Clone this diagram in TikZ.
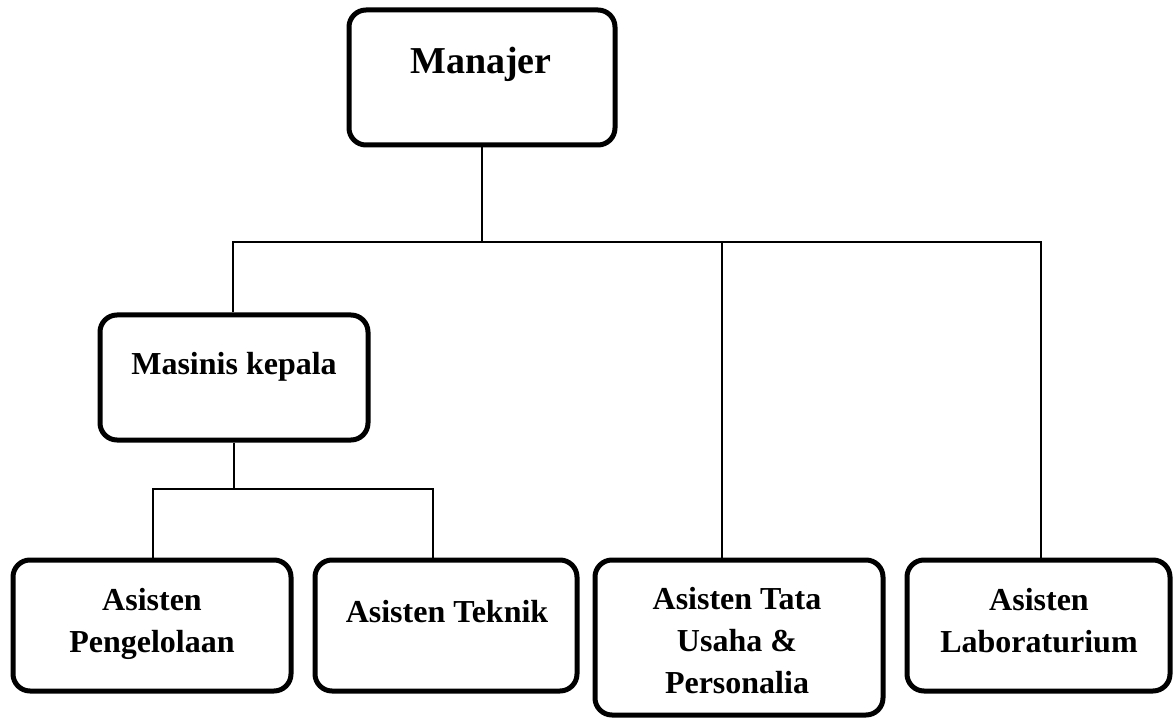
\documentclass[tikz,border=0pt]{standalone}
\usepackage{fontspec}
\setmainfont{Liberation Serif}
\tikzset{
  box/.style={draw, line width=5pt, rounded corners=17pt, inner sep=0pt, fill=white},
  lbl/.style={font=\bfseries\fontsize{32}{42}\selectfont, inner sep=0pt, align=center, anchor=base},
  conn/.style={line width=1.8pt},
}
\begin{document}
\begin{tikzpicture}[x=1pt,y=-1pt]
\useasboundingbox (0,0) rectangle (1173,719);
% boxes
\node[box, minimum width=266pt, minimum height=135pt] (manajer) at (482,77.5) {};
\node[box, minimum width=268pt, minimum height=125pt] (masinis) at (234,377.5) {};
\node[box, minimum width=278pt, minimum height=131pt] (peng) at (152,625.5) {};
\node[box, minimum width=262pt, minimum height=131pt] (teknik) at (446,625.5) {};
\node[box, minimum width=288pt, minimum height=155pt] (tata) at (739,637.5) {};
\node[box, minimum width=263pt, minimum height=131pt] (lab) at (1038.5,625.5) {};
% texts (base anchor = baseline of the last line)
\node[lbl, font=\bfseries\fontsize{38}{44}\selectfont] (manajerT) at (481,74) {Manajer};
\node[lbl] (masinisT) at (234,374) {Masinis kepala};
\node[lbl] (pengT) at (152,652) {Asisten\\Pengelolaan};
\node[lbl] (teknikT) at (447,622) {Asisten Teknik};
\node[lbl] (tataT) at (737,693) {Asisten Tata\\Usaha \&\\Personalia};
\node[lbl] (labT) at (1039,652) {Asisten\\Laboraturium};
% connectors
\coordinate (busL) at (233,242);
\coordinate (busR) at (1041,242);
\coordinate (dropT) at (722,242);
\coordinate (sbusL) at (153,489);
\coordinate (sbusR) at (433,489);
\draw[conn] (manajer.south) -- (manajer.south |- busL);
\draw[conn] (busL |- masinis.north) -- (busL) -- (busR) -- (busR |- lab.north);
\draw[conn] (dropT) -- (dropT |- tata.north);
\draw[conn] (masinis.south) -- (masinis.south |- sbusL);
\draw[conn] (sbusL |- peng.north) -- (sbusL) -- (sbusR) -- (sbusR |- teknik.north);
\end{tikzpicture}
\end{document}
